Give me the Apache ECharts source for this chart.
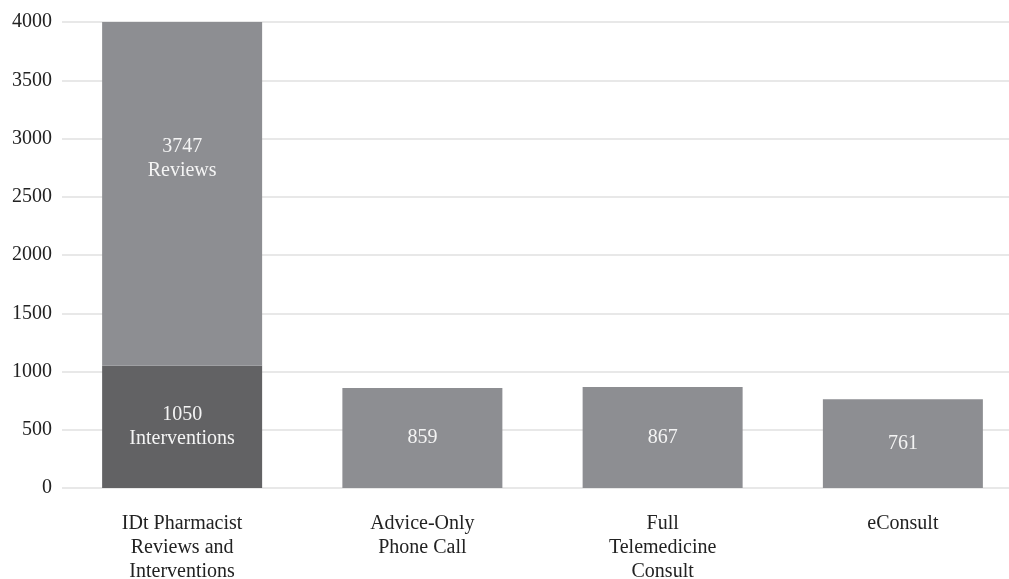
<!DOCTYPE html>
<html>
<head>
<meta charset="utf-8">
<script src="https://cdn.jsdelivr.net/npm/echarts@6/dist/echarts.min.js"></script>
<style>
  html, body { margin: 0; padding: 0; background: #fff; }
  #chart { width: 1009px; height: 579px; }
</style>
</head>
<body>
<div id="chart"></div>
<script>
// categories along x
const categories = [
  'IDt Pharmacist\nReviews and\nInterventions',
  'Advice-Only\nPhone Call',
  'Full\nTelemedicine\nConsult',
  'eConsult'
]
// bottom part of each bar
const baseValues = [1050, 859, 867, 761]
const baseLabels = ['1050\nInterventions', '859', '867', '761']
// reviews stacked on the first bar only
const reviewValues = [3747, null, null, null]
const reviewLabels = ['3747\nReviews', '', '', '']
const yTicks = { min: 0, max: 4000, interval: 500 }

const font = 'Liberation Serif'
const chart = echarts.init(document.getElementById('chart'))

chart.setOption({
  animation: false,
  backgroundColor: '#fff',
  grid: { left: 62, top: 22, width: 961, height: 466, outerBoundsMode: 'none', containLabel: false },
  xAxis: {
    type: 'category',
    data: categories,
    axisLine: { show: false },
    axisTick: { show: false },
    axisLabel: {
      color: '#222',
      fontFamily: font,
      fontSize: 20,
      lineHeight: 24,
      margin: 24,
      interval: 0
    }
  },
  yAxis: {
    type: 'value',
    min: yTicks.min,
    max: yTicks.max,
    interval: yTicks.interval,
    axisLine: { show: false },
    axisTick: { show: false },
    axisLabel: {
      color: '#222',
      fontFamily: font,
      fontSize: 20,
      margin: 10,
      formatter: v => String(v)
    },
    splitLine: { lineStyle: { color: '#e0e0e0', width: 1.5 } }
  },
  series: [
    {
      type: 'bar',
      stack: 'total',
      barWidth: 160,
      data: baseValues.map((v, i) => ({
        value: v,
        itemStyle: { color: i === 0 ? '#626264' : '#8d8e92' }
      })),
      label: {
        show: true,
        position: 'inside',
        color: '#f4f4f4',
        fontFamily: font,
        fontSize: 20,
        lineHeight: 24,
        formatter: p => baseLabels[p.dataIndex]
      }
    },
    {
      type: 'bar',
      stack: 'total',
      barWidth: 160,
      data: reviewValues,
      itemStyle: { color: '#8d8e92' },
      label: {
        show: true,
        position: 'inside',
        offset: [0, -35],
        color: '#f4f4f4',
        fontFamily: font,
        fontSize: 20,
        lineHeight: 24,
        formatter: p => reviewLabels[p.dataIndex]
      }
    }
  ]
})
</script>
</body>
</html>
